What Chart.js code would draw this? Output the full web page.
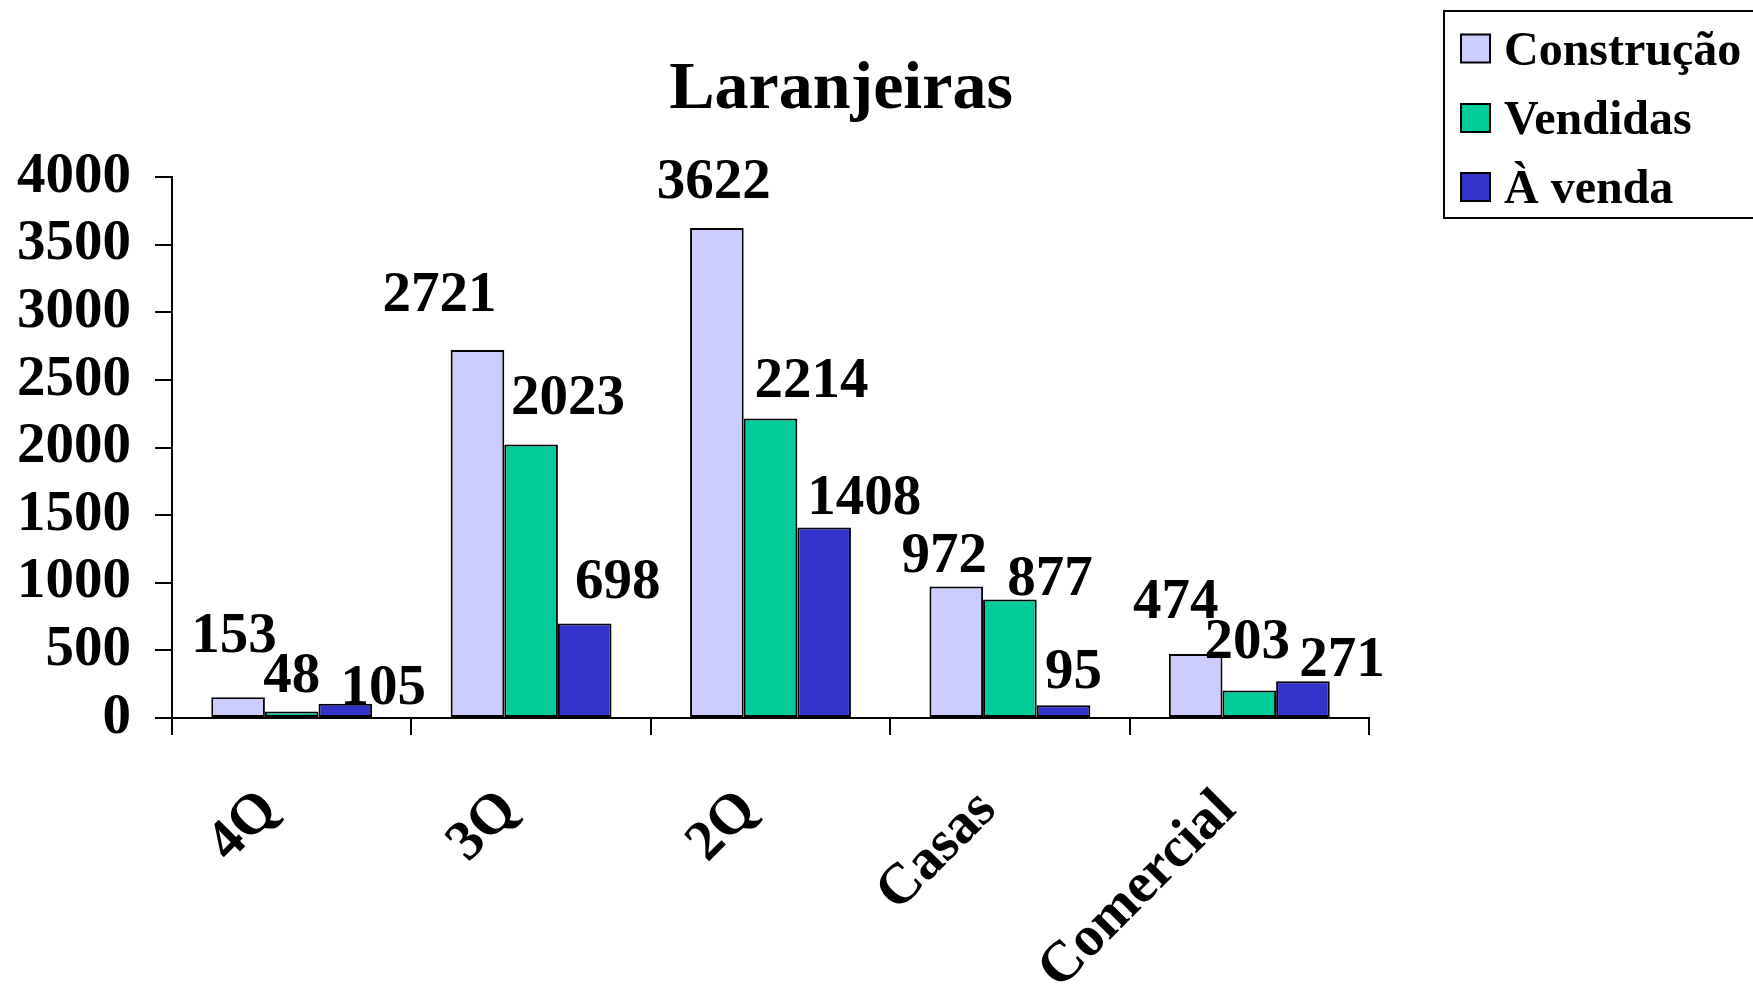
<!DOCTYPE html>
<html>
<head>
<meta charset="utf-8">
<script src="https://cdn.jsdelivr.net/npm/chart.js@4/dist/chart.umd.min.js"></script>
<style>
  html, body { margin: 0; padding: 0; background: #fff; }
  #wrap { width: 1753px; height: 985px; }
</style>
</head>
<body>
<div id="wrap"><canvas id="c" width="1753" height="985"></canvas></div>
<script>
// Laranjeiras – units under construction, sold and for sale, by type
const chartTitle = 'Laranjeiras';
const categories = ['4Q', '3Q', '2Q', 'Casas', 'Comercial'];
const seriesNames = ['Construção', 'Vendidas', 'À venda'];
const construcao = [153, 2721, 3622, 972, 474];
const vendidas = [48, 2023, 2214, 877, 203];
const aVenda = [105, 698, 1408, 95, 271];
const yTicks = [0, 500, 1000, 1500, 2000, 2500, 3000, 3500, 4000];

// Styling
const seriesColors = ['#CCCCFF', '#00CC99', '#3333CC'];
const serif = "'Liberation Serif', 'Times New Roman', serif";

// Value-label nudges [dx, dy] relative to the top-centre of each bar
const labelNudge = [
  [[-4, -45], [-38, -39], [-3, -30], [-12, -15], [-20, -36]],
  [[0, -20], [37, -30], [41, -22], [40, -4], [-2, -33]],
  [[38, 0], [33, -26], [40, -14], [10, -17], [39, -5]]
];

const seriesValues = [construcao, vendidas, aVenda];

const overlay = {
  id: 'overlay',
  afterDatasetsDraw(chart) {
    const ctx = chart.ctx;
    ctx.save();
    ctx.fillStyle = '#000';

    // value labels
    ctx.font = 'bold 57px ' + serif;
    ctx.textAlign = 'center';
    ctx.textBaseline = 'alphabetic';
    chart.data.datasets.forEach((ds, di) => {
      const meta = chart.getDatasetMeta(di);
      meta.data.forEach((bar, i) => {
        const [dx, dy] = labelNudge[di][i];
        ctx.fillText(String(ds.data[i]), bar.x + dx, bar.y + dy);
      });
    });

    // title
    ctx.font = 'bold 68px ' + serif;
    ctx.fillText(chartTitle, 841, 108);

    // legend
    ctx.lineWidth = 2;
    ctx.strokeStyle = '#000';
    ctx.strokeRect(1444, 11, 400, 207);
    ctx.font = 'bold 48px ' + serif;
    ctx.textAlign = 'left';
    const rowY = [48.5, 118, 187];
    chart.data.datasets.forEach((ds, di) => {
      const cy = rowY[di];
      ctx.fillStyle = ds.backgroundColor;
      ctx.fillRect(1461, cy - 14, 29, 28);
      ctx.strokeRect(1461, cy - 14, 29, 28);
      ctx.fillStyle = '#000';
      ctx.fillText(ds.label, 1504, cy + 16);
    });
    ctx.restore();
  }
};

const axisGrid = {
  display: true,
  drawOnChartArea: false,
  drawTicks: true,
  tickLength: 17,
  color: '#000',
  lineWidth: 2
};

new Chart(document.getElementById('c'), {
  type: 'bar',
  data: {
    labels: categories,
    datasets: seriesNames.map((name, i) => ({
      label: name,
      data: seriesValues[i],
      backgroundColor: seriesColors[i],
      borderColor: '#000',
      borderWidth: 2,
      borderSkipped: false,
      categoryPercentage: 0.672,
      barPercentage: 1.0
    }))
  },
  options: {
    responsive: false,
    animation: false,
    layout: { padding: { left: 0, top: 177, right: 384, bottom: 0 } },
    plugins: {
      legend: { display: false },
      title: { display: false },
      tooltip: { enabled: false }
    },
    scales: {
      x: {
        grid: Object.assign({}, axisGrid, { offset: true }),
        border: { display: true, color: '#000', width: 2 },
        ticks: {
          color: '#000',
          font: { family: serif, size: 57, weight: 'bold' },
          minRotation: 45,
          maxRotation: 45,
          autoSkip: false,
          padding: 42,
          labelOffset: -22
        },
        afterFit: s => { s.height = 267; }
      },
      y: {
        min: 0,
        max: 4000,
        grid: axisGrid,
        border: { display: true, color: '#000', width: 2 },
        ticks: {
          color: '#000',
          font: { family: serif, size: 57, weight: 'bold', lineHeight: 1 },
          padding: 24,
          autoSkip: false,
          callback: v => String(v)
        },
        afterBuildTicks: s => { s.ticks = yTicks.map(v => ({ value: v })); },
        afterFit: s => { s.width = 172; }
      }
    }
  },
  plugins: [overlay]
});
</script>
</body>
</html>
